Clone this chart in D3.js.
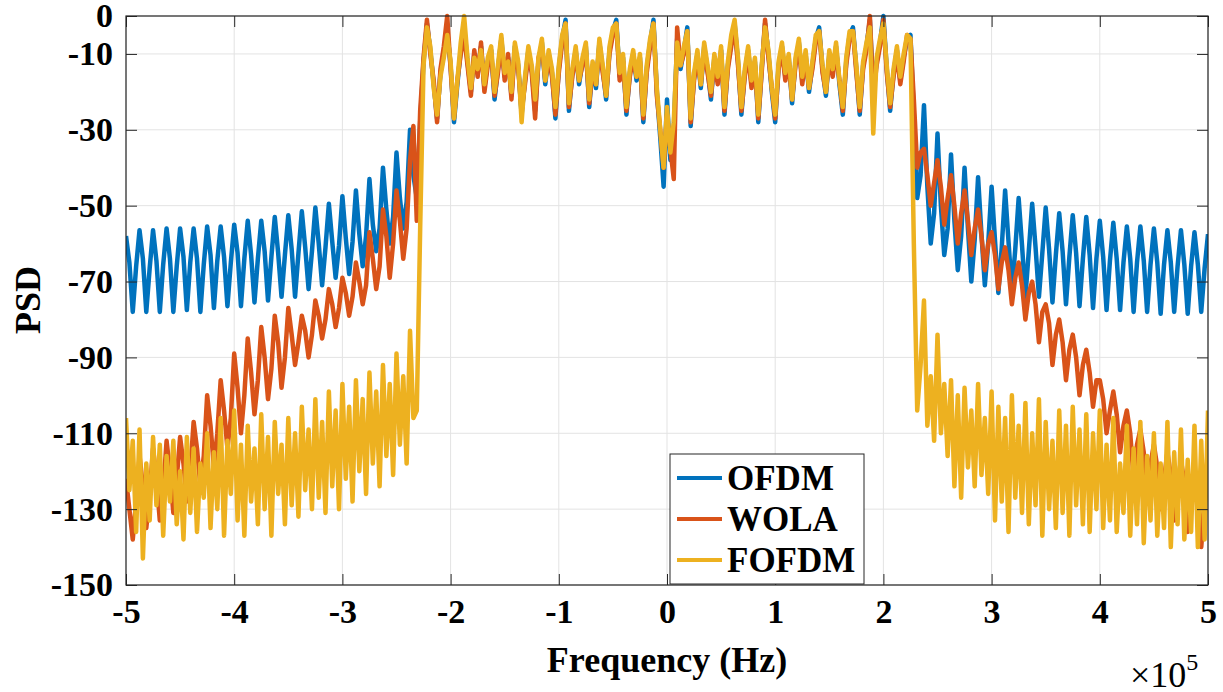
<!DOCTYPE html>
<html>
<head>
<meta charset="utf-8">
<script src="https://cdn.jsdelivr.net/npm/d3@7"></script>
<style>
body { margin: 0; background: #fff; }
</style>
</head>
<body>
<div class="canvas"></div>
<script>
// frequency grid, in units of 1e5 Hz
const fStart = -5;
const fStep = 1 / 32;

// PSD values (dB), one per frequency sample
const ofdm = [
  -58,-65,-78,-66, -56.5,-64,-78,-66.5, -56.5,-64.5,-78,-65.5, -56,-64,-78,-66,
  -56,-63.5,-77.5,-65, -56,-64,-78,-65.5, -55.5,-63,-77,-64.5, -55.5,-63.5,-76.5,-65,
  -55,-62.5,-76.5,-64, -54,-63,-75.5,-64, -54,-62,-75,-63.5, -53,-62.5,-74,-63,
  -52.5,-61.5,-74,-62.5, -51.5,-61,-72,-62, -50.5,-60,-71,-61, -49.5,-59.5,-69,-60.5,
  -47.5,-58.5,-68,-59.5, -46,-57.5,-66,-58, -43,-55,-62,-56, -40,-51,-60,-53,
  -36,-48,-56,-49, -30,-42,-48,-28,
  -12,-2,-9,-18,-27,-15,-10,-4,-13,-28,
  -18,-9,-3,-12,-20,-10,-15,-8,-19,-12,
  -9,-22,-14,-6,-16,-11,-21,-8,-13,-26,
  -17,-9,-14,-25,-12,-7,-18,-10,-15,-27,
  -14,-6,-1,-25,-15,-9,-18,-12,-8,-24,
  -13,-19,-7,-14,-22,-9,-4,-1,-16,-11,
  -26,-15,-10,-17,-11,-28,-14,-7,-1,-20,
  -32,-45,-22,-38,-30,-6,-14,-9,-3,-29,
  -16,-10,-19,-8,-14,-22,-11,-17,-9,-26,
  -13,-7,-2,-12,-26,-15,-9,-18,-12,-28,
  -14,-2,-10,-20,-28,-13,-8,-16,-11,-23,
  -12,-7,-17,-10,-20,-13,-6,-3,-14,-21,
  -10,-15,-8,-18,-26,-12,-5,-3,-14,-26,
  -13,-8,-1,-20,-12,-7,0,-14,-25,-15,
  -9,-17,-11,-6,-5,
  -26,-48,-42,
  -23.5,-45,-60,-52, -31,-50,-63,-56, -36.5,-54,-67,-58, -40,-56,-70,-59,
  -42.5,-57.5,-71,-60, -45,-59,-73,-61, -46,-59.5,-72.5,-61.5, -48,-60.5,-74,-62,
  -49.5,-61,-74,-62.5, -50.5,-61.5,-75.5,-63, -52,-62,-76,-63.5, -52.5,-62.5,-76.5,-64,
  -53,-63,-77,-64, -54,-63.5,-77.5,-64.5, -54.5,-64,-77.5,-65, -55.5,-64,-78,-65,
  -55.5,-64.5,-78,-65.5, -56,-65,-78.5,-65.5, -56.5,-65,-78,-66, -56.5,-65.5,-78.5,-66,
  -57,-65.5,-78,-66.5,
  -57.5
];

const wola = [
  -122,-130,-138,-128, -116,-124,-135,-126, -114,-122,-133,-125, -112,-120,-131,-122,
  -111,-118,-128,-120, -107,-114,-124,-116, -100,-108,-119,-110, -96,-104,-114,-106,
  -89,-98,-110,-100, -85,-94,-105,-96, -82,-90,-101,-93, -79,-86,-98,-90,
  -77,-84,-92,-86, -79,-83,-90,-84, -75,-79,-85,-80, -72,-76,-82,-77,
  -69,-73,-79,-74, -65,-70,-76,-71, -57,-64,-72,-66, -51,-58,-69,-60,
  -46,-54,-64,-56, -38,-29,-54,-25,
  -11,-1,-10,-17,-28,-14,-8,0,-14,-27,
  -17,-10,-5,-13,-21,-9,-16,-7,-20,-13,
  -10,-21,-15,-7,-17,-10,-22,-9,-14,-25,
  -18,-10,-15,-27,-11,-8,-17,-11,-16,-26,
  -15,-7,-2,-24,-16,-10,-17,-13,-9,-23,
  -14,-18,-8,-15,-21,-10,-5,-2,-17,-12,
  -25,-16,-11,-16,-12,-27,-15,-8,-2,-21,
  -30,-40,-26,-35,-43,-3,-13,-10,-4,-28,
  -17,-11,-18,-9,-15,-21,-12,-18,-10,-25,
  -14,-8,-3,-13,-25,-16,-10,-19,-13,-27,
  -15,-1,-11,-19,-27,-14,-9,-17,-12,-22,
  -13,-8,-18,-11,-19,-14,-7,-4,-15,-20,
  -11,-16,-9,-17,-25,-13,-6,-4,-15,-25,
  -14,-9,0,-21,-13,-8,-1,-15,-24,-16,
  -10,-18,-12,-5,-6,
  -22,-40,-36,
  -35,-42,-50,-44, -38,-45,-55,-48, -42,-50,-60,-52, -46,-54,-63,-56,
  -51,-58,-67,-60, -57,-63,-72,-65, -61,-67,-76,-69, -65,-71,-80,-73,
  -70,-76,-86,-78, -76,-81,-92,-84, -80,-86,-96,-88, -84,-90,-100,-92,
  -88,-94,-103,-96, -96,-101,-110,-104, -99,-105,-115,-108, -104,-110,-122,-113,
  -109,-115,-128,-118, -113,-119,-130,-122, -115,-121,-133,-124, -117,-123,-136,-126,
  -119,-126,-140,-128,
  -116
];

const fofdm = [
  -106,-125,-112,-136,-109,-143,-118,-133,-111,-129,
  -113,-137,-116,-128,-112,-134,-120,-138,-111,-131,
  -114,-136,-118,-127,-110,-135,-115,-130,-106,-137,
  -112,-126,-104,-133,-113,-137,-108,-128,-114,-134,
  -105,-130,-111,-137,-107,-126,-113,-134,-106,-129,
  -110,-132,-103,-125,-109,-130,-101,-127,-107,-131,
  -99,-124,-104,-130,-97,-122,-103,-128,-96,-120,
  -101,-126,-94,-118,-99,-124,-92,-116,-97,-121,
  -89,-113,-95,-118,-83,-106,-104,-56,
  -13,-3,-8,-19,-26,-16,-11,-5,-12,-27,
  -17,-7,0,-11,-19,-11,-14,-9,-18,-11,
  -8,-20,-13,-5,-15,-12,-20,-7,-12,-28,
  -16,-8,-13,-22,-11,-6,-17,-9,-14,-24,
  -13,-5,-2,-23,-14,-8,-17,-11,-7,-22,
  -12,-18,-6,-13,-21,-8,-3,-2,-15,-10,
  -24,-14,-9,-16,-10,-26,-13,-6,-2,-19,
  -30,-40,-24,-36,-28,-7,-13,-8,-4,-27,
  -15,-9,-18,-7,-13,-20,-10,-16,-8,-24,
  -12,-5,-1,-11,-24,-14,-8,-17,-11,-26,
  -13,-3,-9,-19,-26,-12,-7,-15,-10,-22,
  -11,-6,-16,-9,-19,-12,-5,-4,-13,-20,
  -9,-14,-7,-17,-24,-11,-4,-4,-13,-24,
  -12,-7,-3,-31,-11,-6,-2,-13,-23,-14,
  -8,-16,-10,-5,-6,
  -60,-104,-92,
  -75,-108,-95,-112,-84,-110,-97,-116,-96,-124,
  -100,-127,-98,-119,-104,-124,-97,-121,-106,-126,
  -99,-133,-103,-128,-106,-136,-100,-127,-108,-131,
  -102,-134,-110,-129,-101,-137,-107,-130,-112,-135,
  -104,-131,-108,-137,-103,-129,-109,-134,-105,-136,
  -110,-130,-104,-135,-113,-133,-106,-136,-118,-131,
  -108,-137,-114,-134,-107,-139,-116,-133,-110,-137,
  -118,-135,-107,-140,-115,-134,-109,-138,-117,-136,
  -108,-140,-112,-138,-104
];

const seriesNames = ['OFDM', 'WOLA', 'FOFDM'];
const seriesColors = ['#0072BD', '#D95319', '#EDB120'];
const xTicks = [-5, -4, -3, -2, -1, 0, 1, 2, 3, 4, 5];
const yTicks = [0, -10, -30, -50, -70, -90, -110, -130, -150];

const width = 1223, height = 692;
const axisColor = '#262626';
const serif = 'Liberation Serif';

const svg = d3.select('.canvas').append('svg')
    .attr('width', width)
    .attr('height', height);

const x = d3.scaleLinear().domain([-5, 5]).range([126, 1208]);
const y = d3.scaleLinear().domain([-150, 0]).range([585, 16]);

// grid
svg.append('g').selectAll('line').data(xTicks).join('line')
    .attr('x1', d => x(d)).attr('x2', d => x(d))
    .attr('y1', y(-150)).attr('y2', y(0))
    .attr('stroke', '#e3e3e3');
svg.append('g').selectAll('line').data(yTicks).join('line')
    .attr('x1', x(-5)).attr('x2', x(5))
    .attr('y1', d => y(d)).attr('y2', d => y(d))
    .attr('stroke', '#e3e3e3');

svg.append('clipPath').attr('id', 'plot-clip')
  .append('rect')
    .attr('x', x(-5)).attr('y', y(0) - 3)
    .attr('width', x(5) - x(-5)).attr('height', y(-150) - y(0) + 3);

const line = d3.line()
    .x((d, i) => x(fStart + i * fStep))
    .y(d => y(d));

const series = [ofdm, wola, fofdm];
const lines = svg.append('g').attr('clip-path', 'url(#plot-clip)');
series.forEach((vals, k) => {
  lines.append('path')
      .datum(vals)
      .attr('d', line)
      .attr('fill', 'none')
      .attr('stroke', seriesColors[k])
      .attr('stroke-width', 4.5)
      .attr('stroke-linejoin', 'round');
});

// axes, ticks pointing inwards on all four sides
function styleAxis(g) {
  g.attr('font-family', serif).attr('font-size', 34).attr('font-weight', 'bold');
  g.select('.domain').remove();
  g.selectAll('.tick line').attr('stroke', axisColor);
  g.selectAll('.tick text').attr('fill', '#000');
}
const fmt = d => String(d);

svg.append('g')
    .attr('transform', `translate(0,${y(-150)})`)
    .call(d3.axisBottom(x).tickValues(xTicks).tickSizeInner(-11).tickSizeOuter(0).tickPadding(14).tickFormat(fmt))
    .call(styleAxis);
svg.append('g')
    .attr('transform', `translate(0,${y(0)})`)
    .call(d3.axisTop(x).tickValues(xTicks).tickSizeInner(-11).tickSizeOuter(0).tickFormat(''))
    .call(styleAxis);
svg.append('g')
    .attr('transform', `translate(${x(-5)},0)`)
    .call(d3.axisLeft(y).tickValues(yTicks).tickSizeInner(-11).tickSizeOuter(0).tickPadding(13).tickFormat(fmt))
    .call(styleAxis);
svg.append('g')
    .attr('transform', `translate(${x(5)},0)`)
    .call(d3.axisRight(y).tickValues(yTicks).tickSizeInner(-11).tickSizeOuter(0).tickFormat(''))
    .call(styleAxis);

svg.append('rect')
    .attr('x', x(-5)).attr('y', y(0))
    .attr('width', x(5) - x(-5)).attr('height', y(-150) - y(0))
    .attr('fill', 'none')
    .attr('stroke', axisColor)
    .attr('stroke-width', 1.2);

// labels
svg.append('text')
    .attr('x', x(0)).attr('y', 672)
    .attr('text-anchor', 'middle')
    .attr('font-family', serif)
    .attr('font-weight', 'bold')
    .attr('font-size', 36)
    .text('Frequency (Hz)');

svg.append('text')
    .attr('transform', 'translate(40,300) rotate(-90)')
    .attr('text-anchor', 'middle')
    .attr('font-family', serif)
    .attr('font-weight', 'bold')
    .attr('font-size', 36)
    .text('PSD');

const expo = svg.append('text')
    .attr('x', 1130).attr('y', 687)
    .attr('font-family', serif)
    .attr('font-size', 36);
expo.append('tspan').text('\u00d710');
expo.append('tspan').attr('dy', -17).attr('font-size', 24).text('5');

// legend
const legend = svg.append('g');
legend.append('rect')
    .attr('x', 670).attr('y', 454)
    .attr('width', 194).attr('height', 130)
    .attr('fill', '#fff')
    .attr('stroke', axisColor)
    .attr('stroke-width', 1);
seriesNames.forEach((name, k) => {
  const ly = 478 + k * 41;
  legend.append('line')
      .attr('x1', 677).attr('x2', 722)
      .attr('y1', ly).attr('y2', ly)
      .attr('stroke', seriesColors[k])
      .attr('stroke-width', 4);
  legend.append('text')
      .attr('x', 727).attr('y', ly + 12)
      .attr('font-family', serif)
      .attr('font-weight', 'bold')
      .attr('font-size', 35)
      .text(name);
});
</script>
</body>
</html>
